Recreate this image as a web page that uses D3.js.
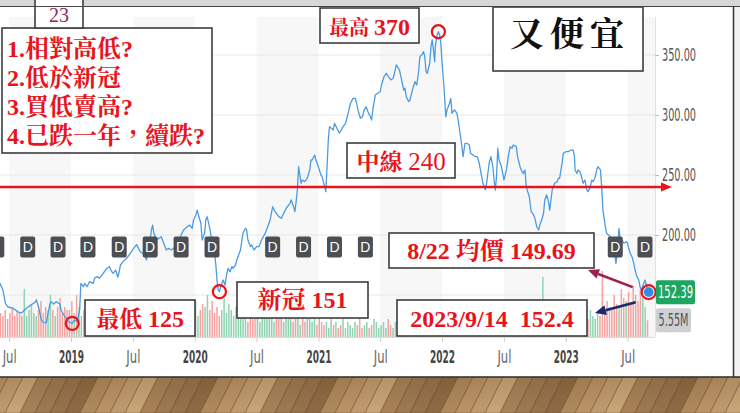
<!DOCTYPE html>
<html><head><meta charset="utf-8">
<script src="https://cdn.jsdelivr.net/npm/d3@7/dist/d3.min.js"></script>
<style>
body{margin:0;background:#fff;}
svg{display:block;}
</style></head><body>
<svg id="c" width="740" height="413"></svg>
<script>
// ---------------- DATA ----------------
// price series: decimal year & close price
const priceDates = [2018.425,2018.45,2018.47,2018.49,2018.53,2018.57,2018.60,2018.64,2018.68,2018.71,2018.72,2018.74,2018.76,2018.78,2018.80,2018.82,2018.83,2018.84,2018.86,2018.88,2018.91,2018.92,2018.95,2018.98,2019.01,2019.03,2019.05,2019.07,2019.08,2019.10,2019.11,2019.13,2019.15,2019.18,2019.19,2019.21,2019.23,2019.26,2019.29,2019.31,2019.33,2019.34,2019.36,2019.38,2019.40,2019.42,2019.45,2019.48,2019.50,2019.53,2019.56,2019.58,2019.60,2019.61,2019.62,2019.64,2019.65,2019.66,2019.67,2019.69,2019.71,2019.73,2019.74,2019.76,2019.77,2019.79,2019.81,2019.83,2019.85,2019.88,2019.89,2019.91,2019.94,2019.96,2019.98,2019.99,2020.01,2020.02,2020.03,2020.05,2020.06,2020.08,2020.09,2020.10,2020.11,2020.125,2020.14,2020.15,2020.16,2020.17,2020.18,2020.19,2020.20,2020.21,2020.22,2020.23,2020.245,2020.26,2020.27,2020.285,2020.30,2020.31,2020.33,2020.34,2020.35,2020.37,2020.38,2020.39,2020.41,2020.42,2020.43,2020.45,2020.46,2020.48,2020.50,2020.52,2020.54,2020.57,2020.59,2020.61,2020.63,2020.65,2020.68,2020.70,2020.72,2020.74,2020.77,2020.78,2020.80,2020.81,2020.82,2020.83,2020.84,2020.86,2020.87,2020.89,2020.91,2020.93,2020.94,2020.95,2020.97,2020.98,2021.00,2021.02,2021.03,2021.05,2021.06,2021.07,2021.08,2021.09,2021.12,2021.13,2021.15,2021.17,2021.20,2021.22,2021.24,2021.26,2021.28,2021.30,2021.32,2021.34,2021.355,2021.37,2021.385,2021.40,2021.42,2021.43,2021.44,2021.46,2021.48,2021.50,2021.51,2021.53,2021.55,2021.565,2021.585,2021.605,2021.63,2021.655,2021.67,2021.69,2021.70,2021.71,2021.73,2021.74,2021.76,2021.78,2021.795,2021.81,2021.82,2021.835,2021.85,2021.86,2021.87,2021.88,2021.90,2021.91,2021.92,2021.93,2021.94,2021.945,2021.96,2021.97,2021.98,2021.99,2022.00,2022.015,2022.03,2022.04,2022.06,2022.07,2022.08,2022.10,2022.12,2022.13,2022.145,2022.16,2022.17,2022.185,2022.20,2022.22,2022.23,2022.25,2022.27,2022.285,2022.30,2022.32,2022.33,2022.35,2022.36,2022.38,2022.395,2022.41,2022.42,2022.43,2022.44,2022.45,2022.46,2022.48,2022.49,2022.50,2022.52,2022.535,2022.55,2022.565,2022.575,2022.60,2022.61,2022.63,2022.64,2022.655,2022.67,2022.68,2022.705,2022.72,2022.74,2022.75,2022.765,2022.78,2022.79,2022.805,2022.82,2022.83,2022.845,2022.86,2022.87,2022.88,2022.89,2022.91,2022.93,2022.94,2022.95,2022.97,2022.98,2023.00,2023.02,2023.04,2023.06,2023.07,2023.075,2023.09,2023.10,2023.115,2023.13,2023.14,2023.155,2023.17,2023.18,2023.195,2023.21,2023.22,2023.235,2023.25,2023.26,2023.28,2023.29,2023.30,2023.32,2023.33,2023.345,2023.36,2023.38,2023.39,2023.405,2023.42,2023.43,2023.44,2023.455,2023.47,2023.49,2023.50,2023.505,2023.52,2023.535,2023.55,2023.56,2023.575,2023.59,2023.60,2023.61,2023.63,2023.64,2023.655,2023.67];
const priceValues = [160,154,143,140,139,136,135,139,142,144,146,139,129,127,127,137.5,143,144.4,142.5,144.4,142.5,137.5,131.9,127.7,126.4,129.2,127.7,137.5,159.7,156.9,159.7,156.9,161.1,159.7,163.9,165.3,163.9,168.1,172.3,173.6,169.4,168.1,170.8,164.8,175,177.8,180.6,184.8,188,192,186,184.8,181.9,179.2,187.5,195.8,204.2,208.3,201.4,195.8,197.2,198.6,195.8,190.3,187.5,188.9,187.5,188.9,191.7,195.8,200,204.2,206.9,208.3,205.6,212.5,216.7,220.8,216.7,209.8,195.8,201.4,212.5,215.3,211.1,204.2,193.1,190.3,184.8,176.4,162.5,154.2,152.8,156.9,159.7,162.5,158.3,168.1,172.3,169.4,173.6,172.3,175,179.2,181.9,187.5,194.4,201.4,205.6,204.2,195.8,190.3,191.7,187.5,190.3,190.3,195.8,201.4,206.9,212.5,223.6,219.4,215.3,213.9,218.1,222.3,226.4,229.2,223.6,219.4,227.8,237.5,256.9,243.1,245.8,244.4,247.3,254.2,262.5,262.5,266.7,262.5,256.9,250,248.6,240.3,236.1,256.9,279.2,290.3,287.5,293.1,288.9,284.8,290.3,293.1,301.4,309.8,313.9,313.9,304.2,297.3,298.6,304.2,306.9,302.8,298.6,295.8,304.2,316.7,318.1,319.4,325,331.9,334.8,331.9,329.2,330.6,341.7,337.5,330.6,320.8,322.3,315.3,311.1,312.5,320.8,327.8,325,336.1,348.6,350,352.8,348.6,336.1,334.8,343.1,357,362.5,354.2,344.4,357,366.7,369.4,366.7,359.8,343.1,323.6,298.6,304.2,309.8,313.9,301.4,304.2,301.4,295.8,284.8,273.6,265.3,276.4,276.4,275,268.1,266.7,265.3,265.3,259.8,248.6,243.1,237.5,243.1,259.8,265.3,256.9,245.8,237.5,248.6,272.3,262.5,256.9,251.4,245.8,254.2,265.3,273.6,272.3,275,273.6,265.3,256.9,254.2,251.4,254.2,240.3,231.9,219.4,216.7,213.9,206.9,204.2,208.3,212.5,218.1,229.2,233.3,227.8,220.8,229.2,237.5,243.1,244.4,247.3,247.3,259.8,268.1,269.4,269.4,270.8,270.8,265.3,254.2,251.4,254.2,252.8,247.3,243.1,245.8,237.5,236.1,238.9,245.8,244.4,247.3,254.2,256.9,254.2,240.3,220.8,206.9,201.4,200,198.6,195.8,190.3,176.4,187.5,205.6,195.8,195.8,193.1,194.4,193.1,190.3,184.8,181.9,176.4,170.8,165.3,162.5,156.9,154.2,159.7,162.5,156.9,152.39];

// weekly volume (millions), first week at volumeStart
const volumeStart = 2018.43;
const volumeValues = [8,7,9,6,8,10,7,9,8,7,16,7,9,11,8,7,9,12,8,10,9,14,9,7,10,13,8,10,9,
 9,12,8,14,10,7,9,6,
 5,7,4,6,8,5,4,9,6,5,7,4,6,5,8,11,6,5,7,4,9,5,6,8,5,4,7,6,5,9,6,4,5,8,6,7,5,6,9,
 8,10,7,6,9,8,12,7,9,11,10,14,9,12,8,10,7,9,13,8,11,9,7,10,8,6,9,
 7,5,8,10,6,9,5,7,8,6,11,7,5,9,6,8,5,7,6,10,5,6,8,4,7,5,6,9,5,7,4,6,5,
 4,5,3,6,4,5,3,4,6,3,5,4,3,5,4,6,3,4,5,3,4,6,5,3,4,5,3,6,4,3,5,4,3,6,4,5,3,4,5,6,4,3,5,4,6,3,5,4,5,6,4,
 5,6,4,7,5,8,6,5,4,6,7,5,4,6,8,5,6,4,5,7,6,5,4,6,5,7,4,6,5,8,6,4,5,7,5,6,4,5,6,5,4,20,7,5,6,8,5,4,6,5,7,6,
 6,8,5,7,9,6,7,8,6,9,7,6,8,7,22,8,12,10,9,14,11,10,16,13,12,15,11,17,14,12,16,13,10,5.55];

// visible dividend markers (decimal years); those behind the 8/22 label are not readable
const dividendDates = [2018.40,2018.65,2018.895,2019.137,2019.39,2019.64,2019.89,2020.14,2020.63,2020.88,2021.13,2021.38,2023.40,2023.64];

const yTickValues = [200,250,300,350];
const gridValues = [150,200,250,300,350];
const xTickValues = [2018.5,2019,2019.5,2020,2020.5,2021,2021.5,2022,2022.5,2023,2023.5];
const bandStarts = [2018.5,2019.5,2020.5,2021.5,2022.5,2023.5];
const midLineValue = 240;
const questions = ["1.相對高低?","2.低於新冠","3.買低賣高?","4.已跌一年，續跌?"];
const woodTones = ["#b08a5e","#9f7a52","#c29c70","#8f6b45","#a88258","#bb9466","#98734c","#caa678"];

// ---------------- SETUP ----------------
const svg = d3.select("#c");
const serif = "'Liberation Serif','Times New Roman','Noto Serif CJK TC','Noto Sans CJK TC',serif";
const axisFont = "'Liberation Sans Narrow','Arial Narrow','DejaVu Sans Condensed','Roboto',sans-serif";
const RED = "#e8141c";
const plotRight = 655, volBase = 337, plotTop = 17;

const x = d3.scaleLinear().domain([2019, 2023]).range([71, 565.8]);
const y = d3.scaleLinear().domain([200, 350]).range([235, 55]);
const v = d3.scaleLinear().domain([0, 20]).range([volBase, volBase - 60]);

const prices = priceDates.map((t, i) => ({t, p: priceValues[i]}));
const bis = d3.bisector(d => d.t).left;
function priceAt(t){
  let i = bis(prices, t);
  if (i <= 0) return prices[0].p;
  if (i >= prices.length) return prices[prices.length-1].p;
  const a = prices[i-1], b = prices[i];
  return a.p + (b.p - a.p) * (t - a.t) / (b.t - a.t);
}
// condensed look: fit text to a width
function condense(sel, w){
  sel.attr("textLength", w).attr("lengthAdjust","spacingAndGlyphs");
}

// background
svg.append("rect").attr("width",740).attr("height",413).attr("fill","#fff");
svg.append("rect").attr("x",0).attr("y",0).attr("width",740).attr("height",6).attr("fill","#d7d7d7");
svg.append("rect").attr("x",734).attr("y",6).attr("width",6).attr("height",371).attr("fill","#f2f2f2");

const defs = svg.append("defs");
defs.append("clipPath").attr("id","plotClip").append("rect")
  .attr("x",0).attr("y",0).attr("width",plotRight).attr("height",volBase+1);

const plot = svg.append("g").attr("clip-path","url(#plotClip)");

// shaded half-year bands
plot.selectAll("rect.band").data(bandStarts).join("rect").attr("class","band")
  .attr("x", d => x(d)).attr("width", d => x(d+0.5) - x(d))
  .attr("y", plotTop).attr("height", volBase - plotTop).attr("fill","#f7f7f7");

// gridlines
plot.selectAll("line.grid").data(gridValues).join("line").attr("class","grid")
  .attr("x1",0).attr("x2",plotRight).attr("y1",d=>y(d)).attr("y2",d=>y(d))
  .attr("stroke","#e7e7e7").attr("stroke-width",1);
svg.append("line").attr("x1",plotRight+0.5).attr("x2",plotRight+0.5).attr("y1",plotTop).attr("y2",volBase)
  .attr("stroke","#e2e2e2");
svg.append("line").attr("x1",0).attr("x2",plotRight).attr("y1",volBase+0.5).attr("y2",volBase+0.5)
  .attr("stroke","#dcdcdc");

// volume bars
const vols = volumeValues.map((val, i) => {
  const t = volumeStart + i / 52;
  const up = priceAt(t) >= priceAt(t - 1/52);
  return {t, val, up};
});
plot.selectAll("rect.vol").data(vols).join("rect").attr("class","vol")
  .attr("x", d => x(d.t) - 0.75).attr("width", 1.5)
  .attr("y", d => v(d.val)).attr("height", d => volBase - v(d.val))
  .attr("fill", d => d.up ? "#8fd4b1" : "#f4a3a3");

// price line
plot.append("path").datum(prices)
  .attr("fill","none").attr("stroke","#4a9be2").attr("stroke-width",1.3)
  .attr("stroke-linejoin","round")
  .attr("d", d3.line().x(d => x(d.t)).y(d => y(d.p)));

// dividend markers
const dg = plot.selectAll("g.div").data(dividendDates).join("g").attr("class","div")
  .attr("transform", d => `translate(${x(d)},247)`);
dg.append("rect").attr("x",-7.5).attr("y",-10.5).attr("width",15).attr("height",21).attr("rx",2)
  .attr("fill","#4b4e53");
dg.filter(d => x(d) > 6).append("text").attr("text-anchor","middle").attr("dy","0.36em")
  .attr("fill","#fff").style("font","14px 'Liberation Sans',Arial,sans-serif").text("D");

// axes
const xAxis = d3.axisBottom(x).tickValues(xTickValues).tickSize(5).tickPadding(9)
  .tickFormat(d => Number.isInteger(d) ? String(d) : "Jul");
const gx = svg.append("g").attr("transform",`translate(0,${volBase})`).call(xAxis);
gx.select(".domain").remove();
gx.selectAll("line").attr("stroke","#cfcfcf");
gx.selectAll("text").style("font-family",axisFont).style("font-size","17px")
  .attr("fill", d => Number.isInteger(d) ? "#444" : "#666")
  .style("font-weight", d => Number.isInteger(d) ? "bold" : "normal")
  .each(function(d){ condense(d3.select(this), Number.isInteger(d) ? 25 : 14); });

const yAxis = d3.axisRight(y).tickValues(yTickValues).tickSize(4).tickPadding(3).tickFormat(d3.format(".2f"));
const gy = svg.append("g").attr("transform",`translate(${plotRight},0)`).call(yAxis);
gy.select(".domain").remove();
gy.selectAll("line").attr("stroke","#bbb");
gy.selectAll("text").style("font-family",axisFont).style("font-size","17px").attr("fill","#555")
  .call(condense, 34);

// 中線 line with arrow
const yMid = y(midLineValue);
svg.append("line").attr("x1",0).attr("x2",664).attr("y1",yMid).attr("y2",yMid)
  .attr("stroke",RED).attr("stroke-width",2.6);
svg.append("path").attr("d",`M661,${yMid-4.5}L672,${yMid}L661,${yMid+4.5}Z`).attr("fill",RED);

// highlight circles from data
const last = prices[prices.length-1];
const lastVol = volumeValues[volumeValues.length-1];
const lx = x(last.t), ly = y(last.p);
const lowPt = prices.filter(d => d.t < 2019.5).reduce((a,b) => b.p < a.p ? b : a);
const covidPt = prices.filter(d => d.t > 2020 && d.t < 2020.5).reduce((a,b) => b.p < a.p ? b : a);
const highPt = prices.reduce((a,b) => b.p > a.p ? b : a);
svg.append("circle").attr("cx",lx).attr("cy",ly).attr("r",4.8).attr("fill","#2f8de4");
[lowPt, covidPt, highPt, last].forEach((d,i) => {
  svg.append("circle").attr("cx",x(d.t)).attr("cy",y(d.p)).attr("r", i===3 ? 7 : 6.5)
    .attr("fill","none").attr("stroke",RED).attr("stroke-width",2.2);
});

// last price / volume tags
svg.append("rect").attr("x",656).attr("y",ly-12).attr("width",39).attr("height",24).attr("rx",2).attr("fill","#1ea55f");
svg.append("text").attr("x",658).attr("y",ly).attr("dy","0.36em")
  .attr("fill","#fff").style("font-family",axisFont).style("font-size","17px")
  .text(d3.format(".2f")(last.p)).call(condense, 35);
const vy = v(lastVol);
svg.append("rect").attr("x",656).attr("y",vy-12).attr("width",35).attr("height",24).attr("rx",2).attr("fill","#cfd0d4");
svg.append("text").attr("x",658.5).attr("y",vy).attr("dy","0.36em")
  .attr("fill","#555").style("font-family",axisFont).style("font-size","17px")
  .text(d3.format(".2f")(lastVol)+"M").call(condense, 30);

// arrows
function arrow(x1,y1,x2,y2,color){
  const ang = Math.atan2(y2-y1, x2-x1), L = 11, Wd = 5;
  const bx = x2 - L*Math.cos(ang), by = y2 - L*Math.sin(ang);
  svg.append("line").attr("x1",x1).attr("y1",y1).attr("x2",bx).attr("y2",by)
    .attr("stroke",color).attr("stroke-width",2.6);
  const px = -Math.sin(ang)*Wd, py = Math.cos(ang)*Wd;
  svg.append("path").attr("d",`M${x2},${y2}L${bx+px},${by+py}L${bx-px},${by-py}Z`).attr("fill",color);
}
arrow(lx-16, ly-5, 588, 270, "#a01f52");
arrow(lx-13, ly+10, 595, 313, "#1b2a6b");

// boxes
function box(x0,y0,w,h){
  svg.append("rect").attr("x",x0).attr("y",y0).attr("width",w).attr("height",h)
    .attr("fill","#fff").attr("stroke","#3c3c3c").attr("stroke-width",1.6);
}

// question box
box(2,28,210,125);
questions.forEach((q,i) => {
  svg.append("text").attr("x",7).attr("y",57 + i*29)
    .attr("fill",RED).style("font-family",serif).style("font-size","24px").style("font-weight","bold").text(q);
});
// page number
box(35,-2,48,30);
svg.append("text").attr("x",59).attr("y",22).attr("text-anchor","middle")
  .attr("fill","#8b2a5c").style("font-family",serif).style("font-size","20px").text("23");

// title box
box(493,7,150,64);
svg.append("text").attr("x",570).attr("y",46).attr("text-anchor","middle")
  .attr("fill","#111").style("font-family",serif).style("font-size","34px").style("font-weight","bold")
  .style("letter-spacing","6px").text("又便宜");

function label(x0,y0,w,h,base,parts){
  box(x0,y0,w,h);
  const t = svg.append("text").attr("x",x0+w/2).attr("y",base).attr("text-anchor","middle")
    .attr("fill",RED).style("font-family",serif).style("font-weight","bold").style("white-space","pre");
  parts.forEach(p => t.append("tspan").style("font-size",(p.s||24)+"px")
    .style("font-weight",p.w||"bold").text(p.t));
}
label(320,8,99,35,35,[{t:"最高 ",s:20},{t:"370"}]);
label(347,143,108,35,170,[{t:"中線 ",s:23},{t:"240",s:25,w:"normal"}]);
label(85,300,110,36,327,[{t:"最低 ",s:23},{t:"125"}]);
label(237,282,131,36,308,[{t:"新冠 ",s:24},{t:"151"}]);
label(389,233,205,35,259,[{t:"8/22 均價 149.69"}]);
label(397,300,190,36,327,[{t:"2023/9/14  152.4"}]);

// slide frame
svg.append("line").attr("x1",0).attr("x2",740).attr("y1",6.5).attr("y2",6.5).attr("stroke","#444").attr("stroke-width",1.2);
svg.append("line").attr("x1",733.5).attr("x2",733.5).attr("y1",6).attr("y2",377).attr("stroke","#333").attr("stroke-width",1.5);

// wood floor
const floor = svg.append("g");
floor.append("rect").attr("x",0).attr("y",377).attr("width",740).attr("height",36).attr("fill","#a58155");
d3.range(0,56).forEach(i => {
  const x0 = -40 + i*15;
  floor.append("path")
    .attr("d",`M${x0},413L${x0+15},413L${x0+33},377L${x0+18},377Z`)
    .attr("fill", woodTones[(i*5)%woodTones.length])
    .attr("stroke","#5a3b1e").attr("stroke-width",0.6).attr("stroke-opacity",0.55);
});
const fg = defs.append("linearGradient").attr("id","woodShade").attr("x1",0).attr("y1",0).attr("x2",0).attr("y2",1);
fg.append("stop").attr("offset","0%").attr("stop-color","#3a2410").attr("stop-opacity",0.15);
fg.append("stop").attr("offset","100%").attr("stop-color","#3a2410").attr("stop-opacity",0.0);
floor.append("rect").attr("x",0).attr("y",377).attr("width",740).attr("height",36).attr("fill","url(#woodShade)");
floor.append("line").attr("x1",0).attr("x2",740).attr("y1",377).attr("y2",377).attr("stroke","#333").attr("stroke-width",1.5);
</script>
</body></html>
